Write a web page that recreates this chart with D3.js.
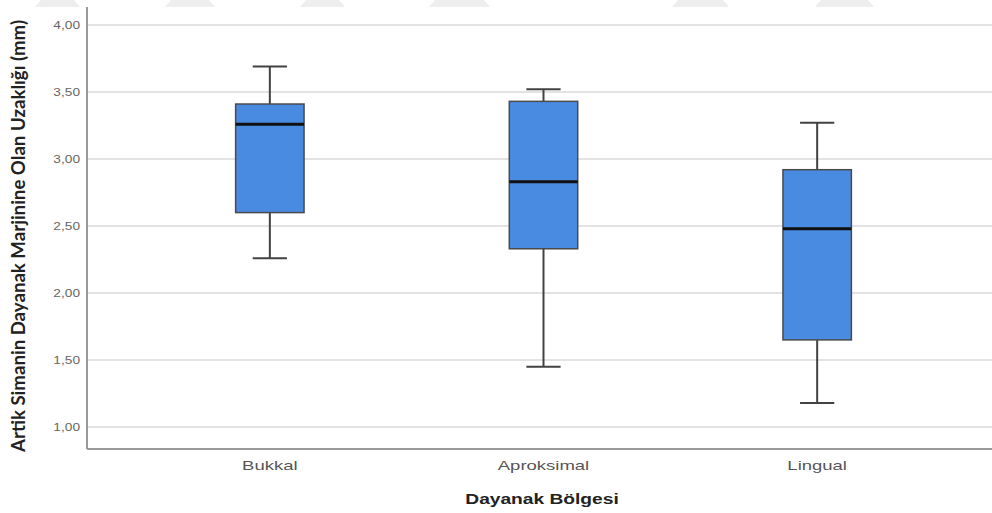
<!DOCTYPE html>
<html>
<head>
<meta charset="utf-8">
<script src="https://cdn.jsdelivr.net/npm/d3@7"></script>
<style>
  html, body { margin: 0; padding: 0; background: #fff; }
  svg { display: block; }
</style>
</head>
<body>
<svg id="chart" width="992" height="513"></svg>
<script>
// Box plot summary per abutment region (mm)
const categories  = ["Bukkal", "Aproksimal", "Lingual"];
const whiskerLow  = [2.26, 1.45, 1.18];
const q1          = [2.60, 2.33, 1.65];
const medians     = [3.26, 2.83, 2.48];
const q3          = [3.41, 3.43, 2.92];
const whiskerHigh = [3.69, 3.52, 3.27];

const yTicks = [1.0, 1.5, 2.0, 2.5, 3.0, 3.5, 4.0];
const xTitle = "Dayanak Bölgesi";
const yTitle = "Artik Simanin Dayanak Marjinine Olan Uzaklığı (mm)";

// faint header band segments [x0, x1]
const bandSegments = [[35, 80], [165, 215], [300, 345], [429, 490], [672, 729], [815, 874]];

const svg = d3.select("#chart");
const W = 992;
const axisX = 87, axisBottom = 449, axisTop = 7;
const stretch = 1.37; // horizontal text stretch

const y = d3.scaleLinear().domain([0.836, 4.134]).range([axisBottom, axisTop]);
const x = d3.scaleBand().domain(categories).range([133, 954]).paddingInner(0).paddingOuter(0);
const boxW = x.bandwidth() * 0.25;
const capW = boxW / 2;
const fmt = v => d3.format(".2f")(v).replace(".", ",");

// header band
svg.append("g").selectAll("path").data(bandSegments).join("path")
  .attr("d", d => `M${d[0]},7 L${d[0] + 6},0 L${d[1] - 6},0 L${d[1]},7 Z`)
  .attr("fill", "#eeeeee");

// gridlines
svg.append("g").selectAll("line").data(yTicks).join("line")
  .attr("x1", axisX).attr("x2", W)
  .attr("y1", d => y(d)).attr("y2", d => y(d))
  .attr("stroke", "#dadada").attr("stroke-width", 1.6);

// y axis via d3.axisLeft, restyled
const yAxis = svg.append("g")
  .attr("transform", `translate(${axisX},0)`)
  .call(d3.axisLeft(y).tickValues(yTicks).tickSize(0).tickPadding(7).tickFormat(fmt));
yAxis.select(".domain").remove();
yAxis.selectAll("text")
  .attr("font-family", "'Liberation Sans', Arial, sans-serif")
  .attr("font-size", 10)
  .attr("fill", "#666")
  .attr("text-anchor", "end")
  .each(function () {
    const t = d3.select(this);
    const tx = -7;
    t.attr("x", null).attr("dy", "0.34em")
     .attr("transform", `translate(${tx},0) scale(${stretch},1)`);
  });

// x axis via d3.axisBottom, restyled
const xAxis = svg.append("g")
  .attr("transform", `translate(0,${axisBottom})`)
  .call(d3.axisBottom(x).tickSize(0).tickPadding(0));
xAxis.select(".domain").remove();
xAxis.selectAll("text")
  .attr("font-family", "'Liberation Sans', Arial, sans-serif")
  .attr("font-size", 13.5)
  .attr("fill", "#555")
  .attr("y", null).attr("dy", null)
  .attr("transform", `translate(0,21) scale(${stretch},1)`);

// axis lines
svg.append("line").attr("x1", axisX).attr("x2", axisX).attr("y1", axisTop).attr("y2", axisBottom)
  .attr("stroke", "#9a9a9a").attr("stroke-width", 2);
svg.append("line").attr("x1", axisX).attr("x2", W).attr("y1", axisBottom).attr("y2", axisBottom)
  .attr("stroke", "#9a9a9a").attr("stroke-width", 2);

// boxes
const rows = categories.map((c, i) => ({
  c, lo: whiskerLow[i], q1: q1[i], med: medians[i], q3: q3[i], hi: whiskerHigh[i]
}));
const g = svg.append("g").selectAll("g").data(rows).join("g")
  .attr("transform", d => `translate(${x(d.c) + x.bandwidth() / 2},0)`);

const wStroke = "#424242";
g.append("line").attr("x1", 0).attr("x2", 0).attr("y1", d => y(d.hi)).attr("y2", d => y(d.q3))
  .attr("stroke", wStroke).attr("stroke-width", 2);
g.append("line").attr("x1", 0).attr("x2", 0).attr("y1", d => y(d.q1)).attr("y2", d => y(d.lo))
  .attr("stroke", wStroke).attr("stroke-width", 2);
g.append("line").attr("x1", -capW / 2).attr("x2", capW / 2).attr("y1", d => y(d.hi)).attr("y2", d => y(d.hi))
  .attr("stroke", wStroke).attr("stroke-width", 2);
g.append("line").attr("x1", -capW / 2).attr("x2", capW / 2).attr("y1", d => y(d.lo)).attr("y2", d => y(d.lo))
  .attr("stroke", wStroke).attr("stroke-width", 2);
g.append("rect")
  .attr("x", -boxW / 2).attr("width", boxW)
  .attr("y", d => y(d.q3)).attr("height", d => y(d.q1) - y(d.q3))
  .attr("fill", "#4a8be2").attr("stroke", "#4a4a4a").attr("stroke-width", 1.5);
g.append("line").attr("x1", -boxW / 2).attr("x2", boxW / 2)
  .attr("y1", d => y(d.med)).attr("y2", d => y(d.med))
  .attr("stroke", "#111").attr("stroke-width", 3);

// titles
svg.append("text")
  .attr("font-family", "'Liberation Sans', Arial, sans-serif")
  .attr("font-weight", "bold").attr("font-size", 14).attr("fill", "#222")
  .attr("text-anchor", "middle")
  .attr("transform", `translate(542,504) scale(${stretch},1)`)
  .text(xTitle);

svg.append("text")
  .attr("font-family", "Lato, 'Open Sans', sans-serif")
  .attr("font-weight", "bold").attr("font-size", 13.5).attr("fill", "#222")
  .attr("text-anchor", "middle")
  .attr("dy", "0.36em")
  .attr("textLength", 432).attr("lengthAdjust", "spacingAndGlyphs")
  .attr("transform", `translate(18.5,236) scale(${stretch},1) rotate(-90)`)
  .text(yTitle);
</script>
</body>
</html>
